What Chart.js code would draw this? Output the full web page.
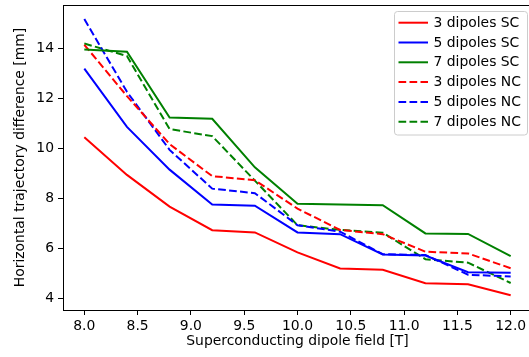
<!DOCTYPE html>
<html>
<head>
<meta charset="utf-8">
<script src="https://cdn.jsdelivr.net/npm/chart.js@4"></script>
<style>
  html, body { margin: 0; padding: 0; background: #fff; overflow: hidden; }
  #wrap { width: 540px; height: 357px; }
</style>
</head>
<body>
<div id="wrap"><canvas id="chart" width="540" height="357"></canvas></div>
<script>
// Dipole field values [T]
const fields = [8.0, 8.4, 8.8, 9.2, 9.6, 10.0, 10.4, 10.8, 11.2, 11.6, 12.0];

// Horizontal trajectory difference [mm], superconducting (SC) runs
const sc3 = [10.45, 8.95, 7.68, 6.74, 6.65, 5.85, 5.21, 5.16, 4.62, 4.58, 4.14];
const sc5 = [13.2, 10.87, 9.16, 7.77, 7.72, 6.65, 6.58, 5.77, 5.73, 5.06, 5.04];
const sc7 = [13.96, 13.87, 11.24, 11.19, 9.25, 7.8, 7.77, 7.74, 6.61, 6.59, 5.7];

// normal-conducting (NC) runs
const nc3 = [14.15, 12.1, 10.18, 8.9, 8.74, 7.6, 6.75, 6.58, 5.88, 5.81, 5.22];
const nc5 = [15.18, 12.27, 9.95, 8.4, 8.22, 6.94, 6.68, 5.78, 5.75, 4.96, 4.89];
const nc7 = [14.2, 13.7, 10.78, 10.5, 8.72, 6.94, 6.75, 6.64, 5.58, 5.44, 4.63];

const xTicks = [8.0, 8.5, 9.0, 9.5, 10.0, 10.5, 11.0, 11.5, 12.0];
const yTicks = [4, 6, 8, 10, 12, 14];

const FONT = "DejaVu Sans";
const FSIZE = 13.9;
const DASH = [7.7, 3.3];

const series = [
  { label: "3 dipoles SC", data: sc3, color: "#ff0000", dash: [] },
  { label: "5 dipoles SC", data: sc5, color: "#0000ff", dash: [] },
  { label: "7 dipoles SC", data: sc7, color: "#008000", dash: [] },
  { label: "3 dipoles NC", data: nc3, color: "#ff0000", dash: DASH },
  { label: "5 dipoles NC", data: nc5, color: "#0000ff", dash: DASH },
  { label: "7 dipoles NC", data: nc7, color: "#008000", dash: DASH }
];

// Axes frame on all four sides
const framePlugin = {
  id: "frame",
  afterDatasetsDraw(chart) {
    const { ctx, chartArea: a } = chart;
    ctx.save();
    ctx.strokeStyle = "#000";
    ctx.lineWidth = 1;
    ctx.strokeRect(a.left + 0.5, a.top + 0.5, a.right - a.left, a.bottom - a.top);
    ctx.restore();
  }
};

// Boxed legend in the upper-right corner
const legendPlugin = {
  id: "boxLegend",
  afterDraw(chart) {
    const { ctx } = chart;
    const x0 = 394.5, y0 = 11.5, w = 133, h = 123.5;
    ctx.save();
    ctx.beginPath();
    ctx.roundRect(x0, y0, w, h, 3);
    ctx.fillStyle = "rgba(255,255,255,0.8)";
    ctx.fill();
    ctx.strokeStyle = "#cccccc";
    ctx.lineWidth = 1;
    ctx.stroke();
    ctx.font = FSIZE + "px '" + FONT + "'";
    ctx.textBaseline = "middle";
    chart.data.datasets.forEach((ds, i) => {
      const y = 22.7 + i * 19.8;
      ctx.beginPath();
      ctx.setLineDash(ds.borderDash || []);
      ctx.strokeStyle = ds.borderColor;
      ctx.lineWidth = 2;
      ctx.moveTo(398.5, y);
      ctx.lineTo(428, y);
      ctx.stroke();
      ctx.setLineDash([]);
      ctx.fillStyle = "#000";
      ctx.fillText(ds.label, 433.5, y + 0.5);
    });
    ctx.restore();
  }
};

new Chart(document.getElementById("chart"), {
  type: "line",
  data: {
    datasets: series.map(s => ({
      label: s.label,
      data: fields.map((f, i) => ({ x: f, y: s.data[i] })),
      borderColor: s.color,
      borderDash: s.dash,
      borderWidth: 2,
      pointRadius: 0,
      tension: 0,
      fill: false
    }))
  },
  options: {
    responsive: false,
    animation: false,
    devicePixelRatio: 1,
    layout: { padding: { top: 5, right: 8, left: 0, bottom: 0 } },
    plugins: { legend: { display: false }, tooltip: { enabled: false } },
    scales: {
      x: {
        type: "linear",
        min: 7.8,
        max: 12.2,
        afterBuildTicks: scale => { scale.ticks = xTicks.map(v => ({ value: v })); },
        afterFit: scale => {
          scale.height = 47;
          scale.paddingLeft = 0;
          scale.paddingRight = 0;
        },
        border: { display: false },
        grid: { drawOnChartArea: false, drawTicks: true, tickLength: 5, color: "#000" },
        ticks: {
          color: "#000",
          font: { family: FONT, size: FSIZE },
          padding: 3,
          maxRotation: 0,
          callback: v => v.toFixed(1)
        },
        title: {
          display: true,
          text: "Superconducting dipole field [T]",
          color: "#000",
          font: { family: FONT, size: FSIZE },
          padding: { top: 0, bottom: 7 }
        }
      },
      y: {
        type: "linear",
        min: 3.55,
        max: 15.74,
        afterBuildTicks: scale => { scale.ticks = yTicks.map(v => ({ value: v })); },
        afterFit: scale => {
          scale.width = 63;
          scale.paddingTop = 0;
          scale.paddingBottom = 0;
        },
        border: { display: false },
        grid: { drawOnChartArea: false, drawTicks: true, tickLength: 5, color: "#000" },
        ticks: {
          color: "#000",
          font: { family: FONT, size: FSIZE },
          padding: 4,
          callback: v => String(v)
        },
        title: {
          display: true,
          text: "Horizontal trajectory difference [mm]",
          color: "#000",
          font: { family: FONT, size: FSIZE },
          padding: { top: 12.4, bottom: 0 }
        }
      }
    }
  },
  plugins: [framePlugin, legendPlugin]
});
</script>
</body>
</html>
